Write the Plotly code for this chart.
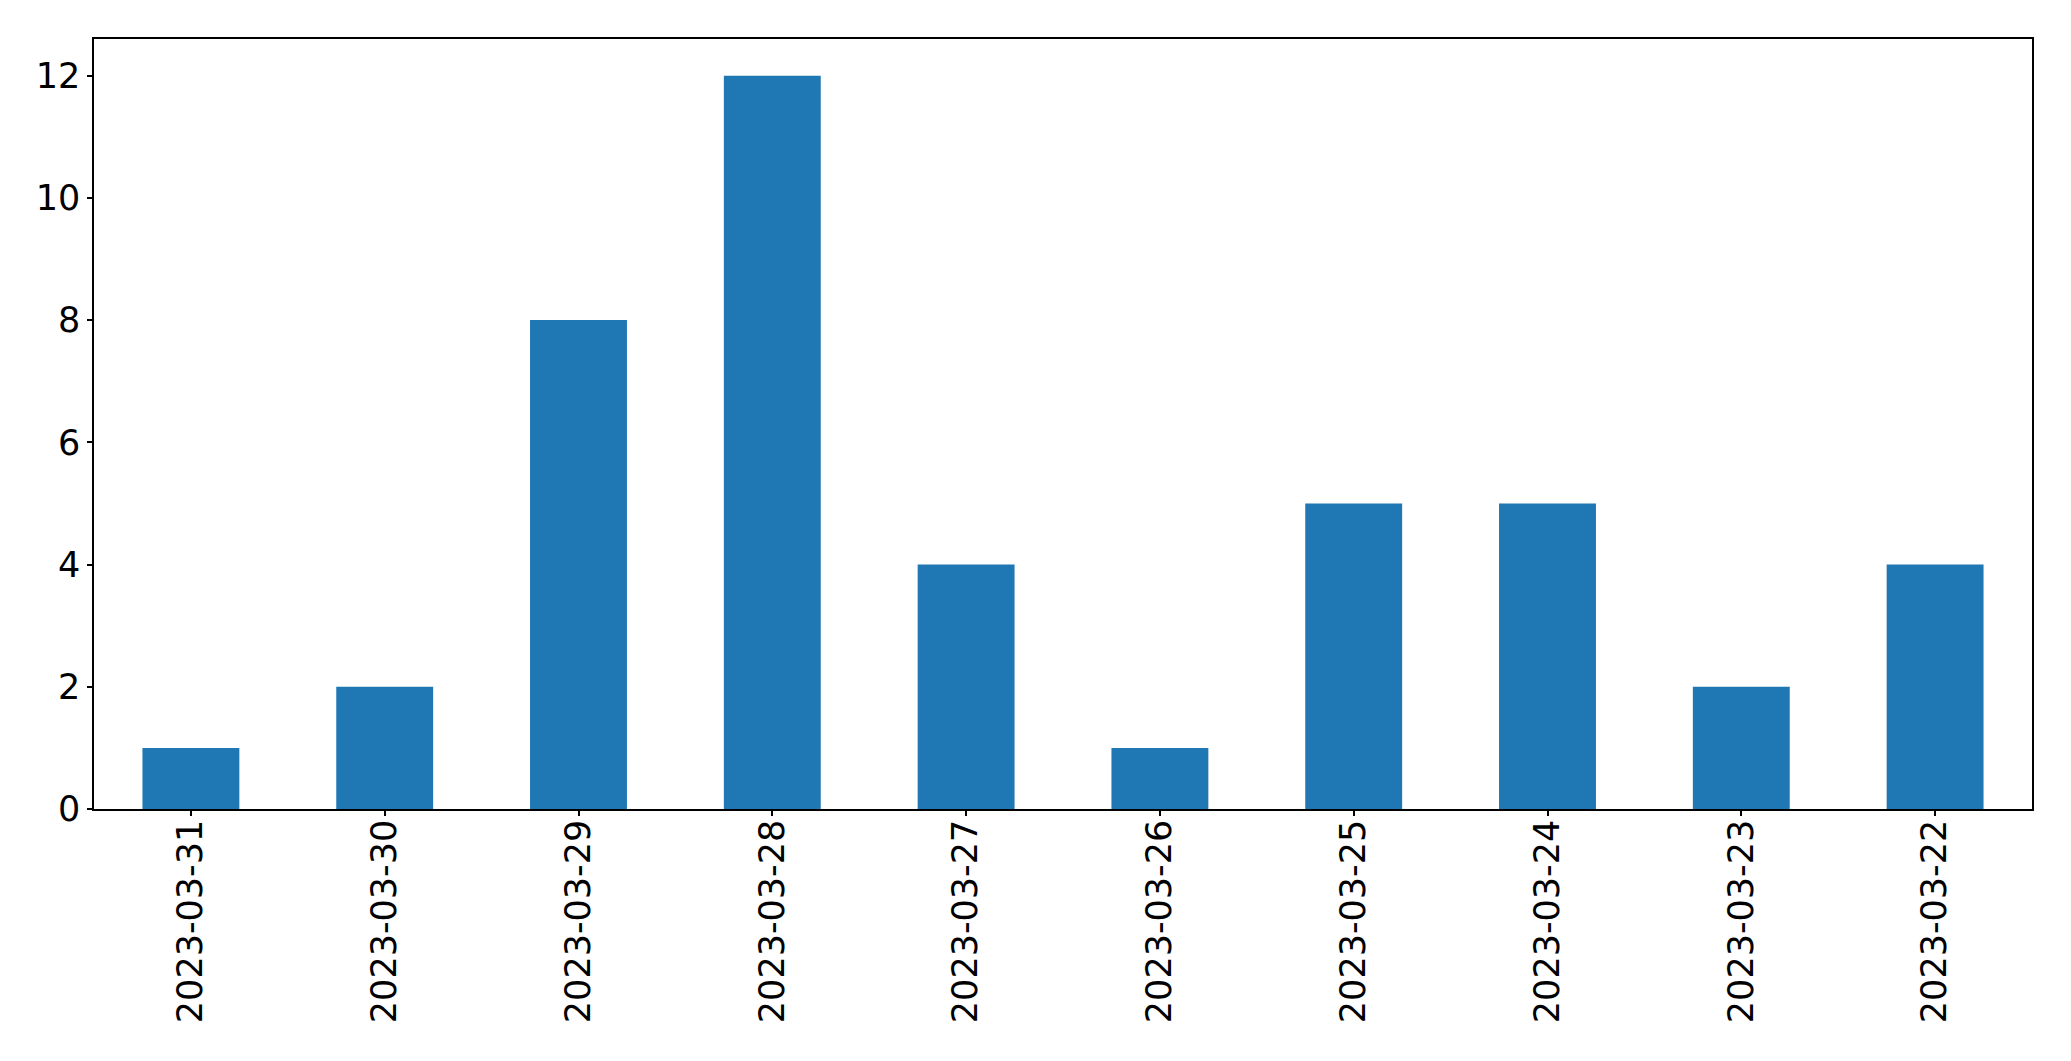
import plotly.graph_objects as go

dates = ["2023-03-31", "2023-03-30", "2023-03-29", "2023-03-28", "2023-03-27",
         "2023-03-26", "2023-03-25", "2023-03-24", "2023-03-23", "2023-03-22"]
counts = [1, 2, 8, 12, 4, 1, 5, 5, 2, 4]
y_ticks = [0, 2, 4, 6, 8, 10, 12]

fig = go.Figure(go.Bar(x=dates, y=counts, marker_color="#1f77b4",
                       marker_line_width=0, width=0.5))

font = dict(family="DejaVu Sans", size=35, color="black")
fig.update_layout(
    width=2071, height=1061,
    margin=dict(l=94, r=39, t=39, b=252),
    plot_bgcolor="white", paper_bgcolor="white",
    showlegend=False, bargap=0.5,
)
fig.update_xaxes(type="category", range=[-0.5, 9.5], tickangle=-90, automargin=False,
                 showline=True, linecolor="black", linewidth=1.5, mirror=True,
                 ticks="outside", ticklen=5, tickwidth=1.5, tickcolor="black",
                 showgrid=False, tickfont=font, ticklabelstandoff=-10)
fig.update_yaxes(range=[0, 12.6], tickvals=y_ticks, automargin=False,
                 showline=True, linecolor="black", linewidth=1.5, mirror=True,
                 ticks="outside", ticklen=5, tickwidth=1.5, tickcolor="black",
                 showgrid=False, zeroline=False, tickfont=font, ticklabelstandoff=0)

fig.write_html("out.html")
